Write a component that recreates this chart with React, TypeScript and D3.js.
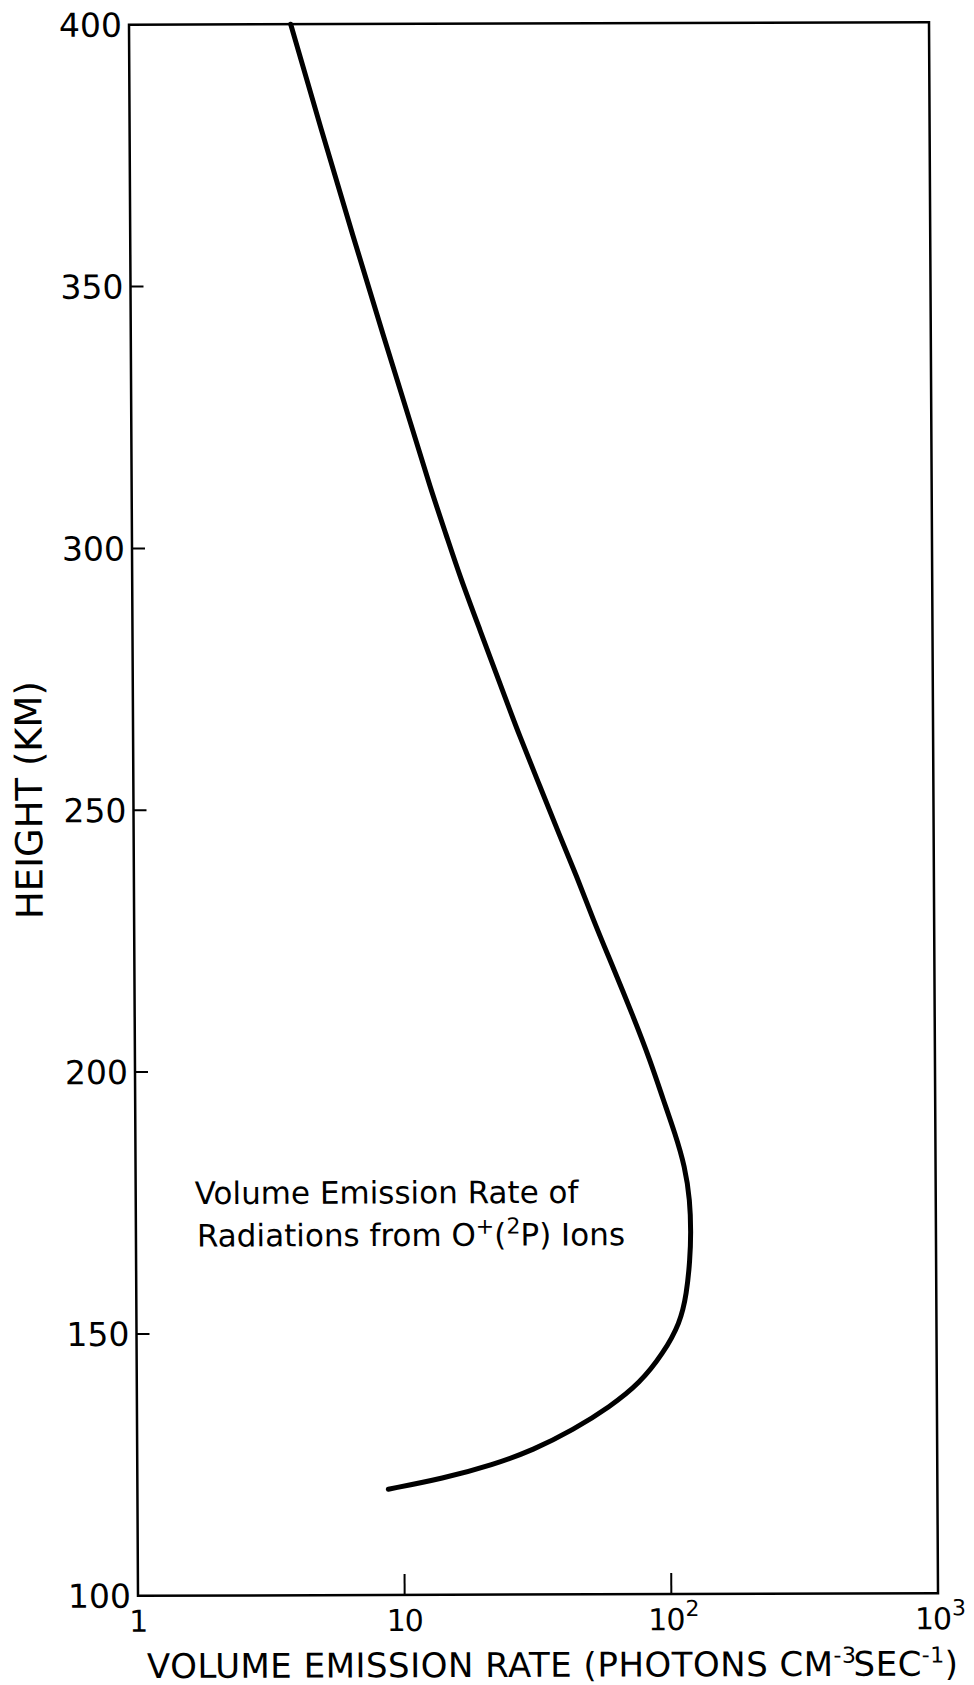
import React from "react";
import * as d3 from "d3";

// Volume emission rate profile of O+(2P) radiation (photons cm^-3 s^-1) versus height (km)
const emissionRate = [
  4.04, 5.22, 6.8, 8.91, 11.26, 13.14, 15.15, 16.96, 20.1, 23.8,
  28.2, 33.5, 39.7, 45.8, 52.7, 60.8, 74.1, 85.4, 95.6, 105.6, 114.9, 119.8, 120.6,
  119.4, 115.9, 109.3, 94.4, 77.1, 59.4, 43.2, 30.6, 21.6, 14.0, 8.73,
];
const heightKm = [
  400, 380, 360, 340, 323.1, 311.6, 302.1, 294.4, 284.2,
  274.0, 263.8, 254.3, 244.7, 237.1, 228.8, 221.1, 210.3, 202.0, 194.4, 188.0, 181.6,
  175.2, 168.9, 163.8, 157.4, 151.7, 146.0, 140.3, 135.8, 131.4, 127.6, 124.8, 122.2,
  120.2,
];

const heightTicks = [100, 150, 200, 250, 300, 350, 400];
const innerHeightTicks = [150, 200, 250, 300, 350];
const rateTicks = [1, 10, 100, 1000];
const rateTickBase = ["1", "10", "10", "10"];
const rateTickExp = ["", "", "2", "3"];
const innerRateTicks = [10, 100];

const W = 974;
const H = 1685;
const plotW = 800;
const plotH = 1571;
const FONT = "'DejaVu Sans', sans-serif";

export default function App() {
  const x = d3.scaleLog().domain([1, 1000]).range([0, plotW]);
  const y = d3.scaleLinear().domain([100, 400]).range([plotH, 0]);

  const pts = emissionRate.map((v, i) => ({ v, h: heightKm[i] }));
  const line = d3
    .line<{ v: number; h: number }>()
    .x((d) => x(d.v))
    .y((d) => y(d.h))
    .curve(d3.curveBasis);

  return (
    <svg
      width={W}
      height={H}
      viewBox={`0 0 ${W} ${H}`}
      style={{ position: "absolute", left: 0, top: 0, display: "block", background: "#fff" }}
      fontFamily={FONT}
    >
      <rect width={W} height={H} fill="#fff" />
      <g transform="matrix(1,-0.003125,0.00573,1,129,24.75)">
        {/* frame */}
        <rect x={0} y={0} width={plotW} height={plotH} fill="none" stroke="#000" strokeWidth={2.5} />

        {/* height ticks (inward) */}
        {innerHeightTicks.map((t) => (
          <line key={"yt" + t} x1={0} x2={13} y1={y(t)} y2={y(t)} stroke="#000" strokeWidth={2} />
        ))}
        {heightTicks.map((t) => (
          <text key={"yl" + t} x={-7} y={y(t)} dy="0.36em" textAnchor="end" fontSize={33} fill="#000">
            {t}
          </text>
        ))}

        {/* rate ticks (inward) */}
        {innerRateTicks.map((t) => (
          <line key={"xt" + t} x1={x(t)} x2={x(t)} y1={plotH} y2={plotH - 21} stroke="#000" strokeWidth={2} />
        ))}
        {rateTicks.map((t, i) =>
          rateTickExp[i] ? (
            <g key={"xl" + t}>
              <text x={x(t) + 13} y={plotH + 36} textAnchor="end" fontSize={30} letterSpacing={-1} fill="#000">
                {rateTickBase[i]}
              </text>
              <text x={x(t) + 14} y={plotH + 22} fontSize={22} fill="#000">
                {rateTickExp[i]}
              </text>
            </g>
          ) : (
            <text key={"xl" + t} x={x(t)} y={plotH + 36} textAnchor="middle" fontSize={30} letterSpacing={-1} fill="#000">
              {rateTickBase[i]}
            </text>
          )
        )}

        {/* profile */}
        <path
          d={line(pts) || ""}
          fill="none"
          stroke="#000"
          strokeWidth={5}
          strokeLinecap="round"
          strokeLinejoin="round"
        />

        {/* annotation */}
        <text x={59} y={1179.5} fontSize={31} fill="#000">
          Volume Emission Rate of
        </text>
        <text x={61} y={1222} fontSize={31} fill="#000">
          Radiations from O
          <tspan fontSize={22} dy={-12}>+</tspan>
          <tspan dy={12}>(</tspan>
          <tspan fontSize={22} dy={-12}>2</tspan>
          <tspan dy={12}>P) Ions</tspan>
        </text>

        {/* axis titles */}
        <text x={8.5} y={1653.3} fontSize={34} letterSpacing={0.5} fill="#000">
          VOLUME EMISSION RATE (PHOTONS CM
          <tspan fontSize={22} dy={-13}>-3</tspan>
          <tspan dy={13} dx={-3}>SEC</tspan>
          <tspan fontSize={22} dy={-13}>-1</tspan>
          <tspan dy={13}>)</tspan>
        </text>
        <text
          transform="translate(-91.4,775) rotate(-90)"
          textAnchor="middle"
          fontSize={37}
          fill="#000"
        >
          HEIGHT  (KM)
        </text>
      </g>
    </svg>
  );
}
